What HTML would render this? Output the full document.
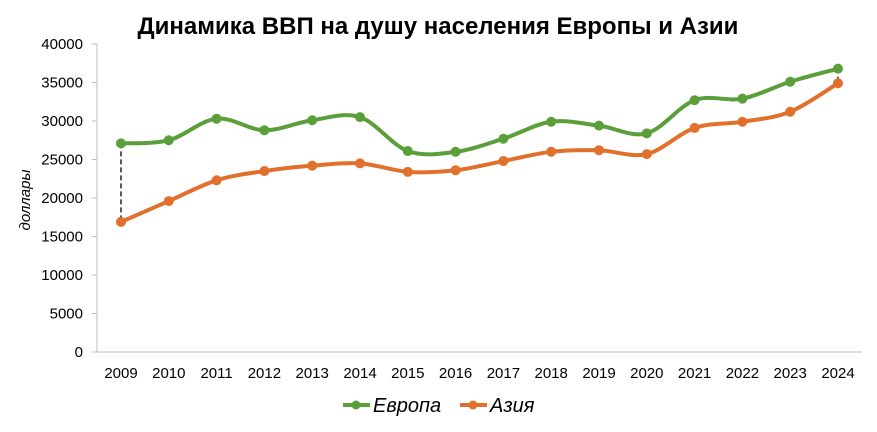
<!DOCTYPE html>
<html><head><meta charset="utf-8"><style>
body{margin:0;background:#fff;width:877px;height:427px;overflow:hidden;font-family:"Liberation Sans",sans-serif}
</style></head><body>
<svg id="chart" width="877" height="427" xmlns="http://www.w3.org/2000/svg">
<text x="438" y="34" text-anchor="middle" font-size="24" font-weight="bold" fill="#000">Динамика ВВП на душу населения Европы и Азии</text>
<text transform="translate(30,200) rotate(-90)" text-anchor="middle" font-size="15" font-style="italic" fill="#000">доллары</text>
<g id="axes"></g><g id="series"></g>
<g>
<g><line x1="343" y1="405" x2="370" y2="405" stroke="#5b9f3a" stroke-width="4"/><circle cx="356" cy="405" r="4.5" fill="#5b9f3a"/><text x="373" y="412" font-size="20" font-style="italic">Европа</text></g>
<g><line x1="460" y1="405" x2="487" y2="405" stroke="#e0702c" stroke-width="4"/><circle cx="473" cy="405" r="4.5" fill="#e0702c"/><text x="490" y="412" font-size="20" font-style="italic">Азия</text></g>
</g>
</svg>
<script>
const years=[2009,2010,2011,2012,2013,2014,2015,2016,2017,2018,2019,2020,2021,2022,2023,2024];
const europe=[27100,27500,30300,28800,30100,30500,26100,26000,27700,29900,29400,28400,32700,32900,35100,36800];
const asia=[16900,19600,22300,23500,24200,24500,23400,23600,24800,26000,26200,25700,29100,29900,31200,34900];
const yTicks=[0,5000,10000,15000,20000,25000,30000,35000,40000];
const NS="http://www.w3.org/2000/svg";
const x=i=>121+i*(838-121)/(years.length-1);
const y=v=>352-v*(308/40000);
function mk(t,a,p){const e=document.createElementNS(NS,t);for(const k in a)e.setAttribute(k,a[k]);p.appendChild(e);return e;}
const ax=document.getElementById('axes'),se=document.getElementById('series');
const yl=mk('line',{x1:97,y1:y(0),x2:97,y2:y(40000),stroke:'#bfbfbf'},ax);

const xl=mk('line',{x1:97,y1:y(0),x2:862,y2:y(0),stroke:'#bfbfbf'},ax);

yTicks.forEach(v=>{const t=mk('text',{x:83,y:y(v)+5,'text-anchor':'end','font-size':15},ax);t.textContent=v;

mk('line',{x1:92,y1:y(v),x2:97,y2:y(v),stroke:'#bfbfbf'},ax);});
years.forEach((yr,i)=>{const t=mk('text',{x:x(i),y:378,'text-anchor':'middle','font-size':15},ax);t.textContent=yr;
});
[0,years.length-1].forEach(i=>{const l=mk('line',{x1:x(i),y1:y(europe[i]),x2:x(i),y2:y(asia[i]),stroke:'#000','stroke-dasharray':'5,3','stroke-width':1.3},se);
});
function smooth(vals){const p=vals.map((v,i)=>[x(i),y(v)]);let d=`M${p[0][0]},${p[0][1]}`;
for(let i=0;i<p.length-1;i++){const p0=p[i-1]||p[i],p1=p[i],p2=p[i+1],p3=p[i+2]||p2;const k=1/6;
d+=` C${p1[0]+(p2[0]-p0[0])*k},${p1[1]+(p2[1]-p0[1])*k} ${p2[0]-(p3[0]-p1[0])*k},${p2[1]-(p3[1]-p1[1])*k} ${p2[0]},${p2[1]}`;}return d;}
[[europe,'#5b9f3a','europe'],[asia,'#e0702c','asia']].forEach(([vals,c,n])=>{
const path=mk('path',{d:smooth(vals),fill:'none',stroke:c,'stroke-width':4},se);

vals.forEach((v,i)=>{const m=mk('circle',{cx:x(i),cy:y(v),r:5,fill:c},se);
});});
</script>
</body></html>
